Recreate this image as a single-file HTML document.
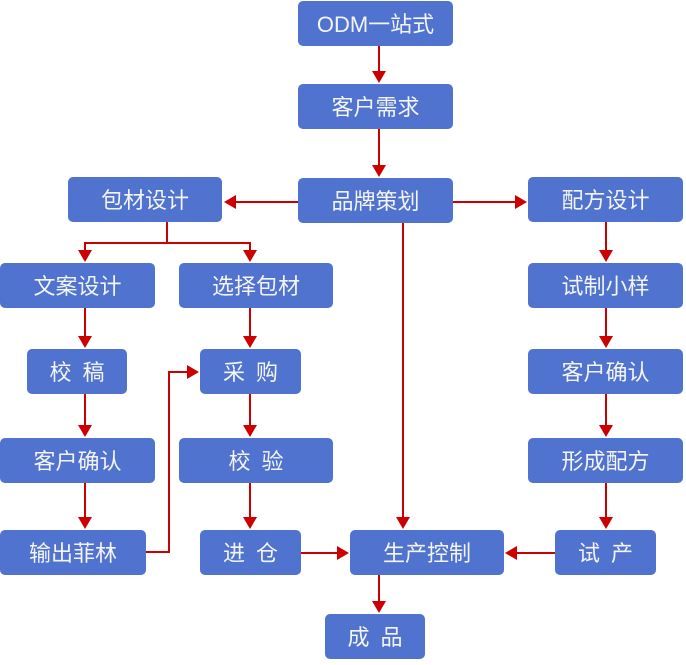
<!DOCTYPE html>
<html><head><meta charset="utf-8"><style>
html,body{margin:0;padding:0;background:#fff;}
body{width:686px;height:665px;position:relative;overflow:hidden;font-family:"Liberation Sans","Noto Sans CJK SC",sans-serif;}
.b{position:absolute;height:44px;padding-top:1px;background:#4f73cf;border-radius:5px;color:#f4f4f4;font-size:22px;line-height:45px;text-align:center;white-space:nowrap;overflow:hidden;}
svg{position:absolute;left:0;top:0;}
</style></head><body>
<svg width="686" height="665" viewBox="0 0 686 665">
<g stroke="#cc0000" stroke-width="2" fill="none">
<line x1="379" y1="45" x2="379" y2="72"/>
<line x1="379" y1="129" x2="379" y2="166"/>
<line x1="298" y1="202" x2="235" y2="202"/>
<line x1="453" y1="202" x2="516" y2="202"/>
<line x1="403" y1="223" x2="403" y2="518"/>
<polyline points="167,222 167,243 85,243 85,251"/>
<polyline points="167,243 250,243 250,251"/>
<line x1="85" y1="308" x2="85" y2="337"/>
<line x1="250" y1="308" x2="250" y2="337"/>
<line x1="85" y1="393" x2="85" y2="426"/>
<line x1="85" y1="483" x2="85" y2="518"/>
<line x1="250" y1="393" x2="250" y2="426"/>
<line x1="250" y1="483" x2="250" y2="518"/>
<polyline points="146,552 169,552 169,372 188,372"/>
<line x1="301" y1="553" x2="338" y2="553"/>
<line x1="555" y1="553" x2="516" y2="553"/>
<line x1="379" y1="574" x2="379" y2="602"/>
<line x1="606" y1="222" x2="606" y2="251"/>
<line x1="606" y1="308" x2="606" y2="337"/>
<line x1="606" y1="393" x2="606" y2="426"/>
<line x1="606" y1="483" x2="606" y2="518"/>
</g>
<g fill="#cc0000">
<polygon points="372,71 386,71 379,83"/>
<polygon points="372,165 386,165 379,177"/>
<polygon points="236,195 236,209 224,202"/>
<polygon points="515,195 515,209 527,202"/>
<polygon points="396,517 410,517 403,529"/>
<polygon points="78,250 92,250 85,262"/>
<polygon points="243,250 257,250 250,262"/>
<polygon points="78,336 92,336 85,348"/>
<polygon points="243,336 257,336 250,348"/>
<polygon points="78,425 92,425 85,437"/>
<polygon points="78,517 92,517 85,529"/>
<polygon points="243,425 257,425 250,437"/>
<polygon points="243,517 257,517 250,529"/>
<polygon points="187,365 187,379 199,372"/>
<polygon points="337,546 337,560 349,553"/>
<polygon points="517,546 517,560 505,553"/>
<polygon points="372,601 386,601 379,613"/>
<polygon points="599,250 613,250 606,262"/>
<polygon points="599,336 613,336 606,348"/>
<polygon points="599,425 613,425 606,437"/>
<polygon points="599,517 613,517 606,529"/>
</g>
</svg>
<div class="b" style="left:298px;top:1px;width:155px;">ODM一站式</div>
<div class="b" style="left:298px;top:84px;width:155px;">客户需求</div>
<div class="b" style="left:298px;top:178px;width:155px;">品牌策划</div>
<div class="b" style="left:68px;top:177px;width:154px;">包材设计</div>
<div class="b" style="left:528px;top:177px;width:155px;">配方设计</div>
<div class="b" style="left:0px;top:263px;width:155px;">文案设计</div>
<div class="b" style="left:179px;top:263px;width:154px;">选择包材</div>
<div class="b" style="left:528px;top:263px;width:155px;">试制小样</div>
<div class="b" style="left:27px;top:349px;width:100px;">校&ensp;稿</div>
<div class="b" style="left:200px;top:349px;width:101px;">采&ensp;购</div>
<div class="b" style="left:528px;top:349px;width:155px;">客户确认</div>
<div class="b" style="left:0px;top:438px;width:155px;">客户确认</div>
<div class="b" style="left:179px;top:438px;width:154px;">校&ensp;验</div>
<div class="b" style="left:528px;top:438px;width:155px;">形成配方</div>
<div class="b" style="left:0px;top:530px;width:146px;">输出菲林</div>
<div class="b" style="left:200px;top:530px;width:101px;">进&ensp;仓</div>
<div class="b" style="left:350px;top:530px;width:154px;">生产控制</div>
<div class="b" style="left:555px;top:530px;width:101px;">试&ensp;产</div>
<div class="b" style="left:325px;top:614px;width:100px;">成&ensp;品</div>
</body></html>
